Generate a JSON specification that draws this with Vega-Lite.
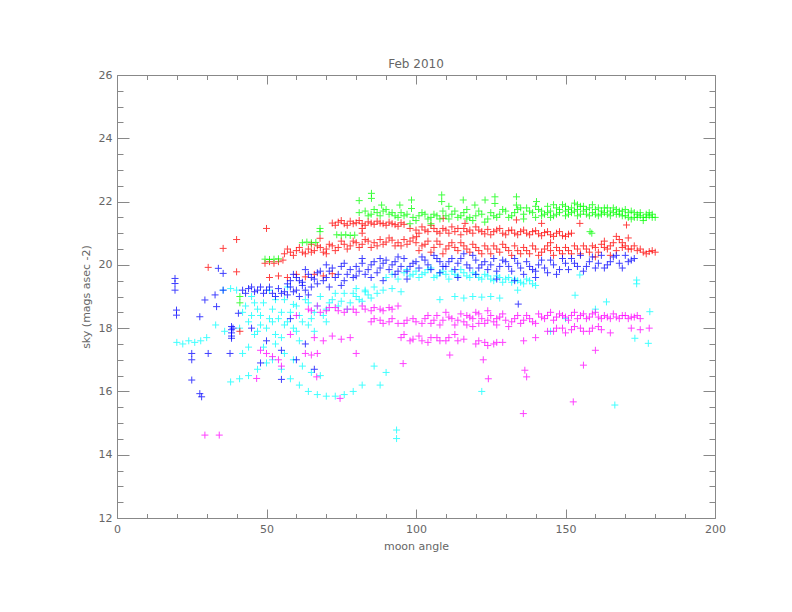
{
  "$schema": "https://vega.github.io/schema/vega-lite/v6.json",
  "width": 598,
  "height": 443,
  "autosize": "none",
  "padding": {"left": 117, "top": 75, "right": 77, "bottom": 94},
  "background": "white",
  "config": {
    "view": {"stroke": null},
    "font": "DejaVu Sans",
    "axis": {
      "grid": false,
      "domainColor": "#888",
      "tickColor": "#888",
      "labelColor": "#666",
      "titleColor": "#666",
      "labelFontSize": 11,
      "titleFontSize": 11,
      "titleFontWeight": "normal",
      "labelFont": "DejaVu Sans",
      "titleFont": "DejaVu Sans"
    },
    "title": {"color": "#666", "fontSize": 12, "fontWeight": "normal", "font": "DejaVu Sans"}
  },
  "title": {"text": "Feb 2010", "offset": -2},
  "data": {
    "values": [
      {"angle": 96, "sky": 19.75, "set": "c"}, {"angle": 98, "sky": 19.65, "set": "c"}, {"angle": 100, "sky": 19.8, "set": "c"},
      {"angle": 102, "sky": 19.7, "set": "c"}, {"angle": 104, "sky": 19.85, "set": "c"}, {"angle": 106, "sky": 19.6, "set": "c"},
      {"angle": 108, "sky": 19.75, "set": "c"}, {"angle": 110, "sky": 19.7, "set": "c"}, {"angle": 112, "sky": 19.8, "set": "c"},
      {"angle": 114, "sky": 19.65, "set": "c"}, {"angle": 116, "sky": 19.75, "set": "c"}, {"angle": 118, "sky": 19.6, "set": "c"},
      {"angle": 120, "sky": 19.7, "set": "c"}, {"angle": 122, "sky": 19.55, "set": "c"}, {"angle": 124, "sky": 19.65, "set": "c"},
      {"angle": 126, "sky": 19.5, "set": "c"}, {"angle": 128, "sky": 19.6, "set": "c"}, {"angle": 130, "sky": 19.55, "set": "c"},
      {"angle": 132, "sky": 19.45, "set": "c"}, {"angle": 134, "sky": 19.5, "set": "c"}, {"angle": 136, "sky": 19.4, "set": "c"},
      {"angle": 138, "sky": 19.5, "set": "c"}, {"angle": 140, "sky": 19.35, "set": "c"}, {"angle": 80, "sky": 19.25, "set": "c"},
      {"angle": 97, "sky": 19.85, "set": "c"}, {"angle": 99, "sky": 19.7, "set": "c"}, {"angle": 101, "sky": 19.6, "set": "c"},
      {"angle": 103, "sky": 19.75, "set": "c"}, {"angle": 105, "sky": 19.9, "set": "c"}, {"angle": 107, "sky": 19.65, "set": "c"},
      {"angle": 109, "sky": 19.8, "set": "c"}, {"angle": 111, "sky": 19.55, "set": "c"}, {"angle": 113, "sky": 19.7, "set": "c"},
      {"angle": 115, "sky": 19.85, "set": "c"}, {"angle": 117, "sky": 19.65, "set": "c"}, {"angle": 119, "sky": 19.75, "set": "c"},
      {"angle": 121, "sky": 19.6, "set": "c"}, {"angle": 123, "sky": 19.7, "set": "c"}, {"angle": 125, "sky": 19.55, "set": "c"},
      {"angle": 127, "sky": 19.65, "set": "c"}, {"angle": 129, "sky": 19.45, "set": "c"}, {"angle": 131, "sky": 19.6, "set": "c"},
      {"angle": 133, "sky": 19.55, "set": "c"}, {"angle": 135, "sky": 19.45, "set": "c"}, {"angle": 137, "sky": 19.55, "set": "c"},
      {"angle": 139, "sky": 19.4, "set": "c"}, {"angle": 90, "sky": 19.6, "set": "c"}, {"angle": 92, "sky": 19.7, "set": "c"},
      {"angle": 94, "sky": 19.55, "set": "c"},
      {"angle": 83, "sky": 19.2, "set": "c"}, {"angle": 86, "sky": 19.3, "set": "c"}, {"angle": 89, "sky": 19.2, "set": "c"},
      {"angle": 92, "sky": 19.25, "set": "c"}, {"angle": 95, "sky": 19.15, "set": "c"}, {"angle": 113, "sky": 19.0, "set": "c"},
      {"angle": 116, "sky": 18.95, "set": "c"}, {"angle": 119, "sky": 19.0, "set": "c"}, {"angle": 122, "sky": 18.98, "set": "c"},
      {"angle": 125, "sky": 19.0, "set": "c"}, {"angle": 128, "sky": 18.95, "set": "c"}, {"angle": 42, "sky": 18.5, "set": "c"},
      {"angle": 44, "sky": 18.2, "set": "c"}, {"angle": 46, "sky": 18.8, "set": "c"}, {"angle": 48, "sky": 18.4, "set": "c"},
      {"angle": 50, "sky": 18.0, "set": "c"}, {"angle": 52, "sky": 18.6, "set": "c"}, {"angle": 54, "sky": 18.3, "set": "c"},
      {"angle": 56, "sky": 18.9, "set": "c"}, {"angle": 58, "sky": 18.5, "set": "c"}, {"angle": 60, "sky": 18.7, "set": "c"},
      {"angle": 62, "sky": 18.2, "set": "c"}, {"angle": 64, "sky": 18.8, "set": "c"}, {"angle": 66, "sky": 18.5, "set": "c"},
      {"angle": 68, "sky": 19.0, "set": "c"}, {"angle": 70, "sky": 18.6, "set": "c"}, {"angle": 72, "sky": 18.9, "set": "c"},
      {"angle": 74, "sky": 18.7, "set": "c"}, {"angle": 76, "sky": 19.1, "set": "c"}, {"angle": 78, "sky": 18.8, "set": "c"},
      {"angle": 80, "sky": 19.0, "set": "c"}, {"angle": 82, "sky": 18.85, "set": "c"}, {"angle": 84, "sky": 19.05, "set": "c"},
      {"angle": 43, "sky": 18.7, "set": "c"}, {"angle": 45, "sky": 18.4, "set": "c"}, {"angle": 47, "sky": 18.6, "set": "c"},
      {"angle": 49, "sky": 18.8, "set": "c"}, {"angle": 51, "sky": 18.3, "set": "c"}, {"angle": 53, "sky": 18.9, "set": "c"},
      {"angle": 55, "sky": 18.5, "set": "c"}, {"angle": 57, "sky": 18.2, "set": "c"}, {"angle": 59, "sky": 18.75, "set": "c"},
      {"angle": 61, "sky": 18.4, "set": "c"}, {"angle": 63, "sky": 18.9, "set": "c"}, {"angle": 65, "sky": 18.3, "set": "c"},
      {"angle": 67, "sky": 18.7, "set": "c"}, {"angle": 69, "sky": 18.4, "set": "c"}, {"angle": 71, "sky": 18.8, "set": "c"},
      {"angle": 73, "sky": 19.1, "set": "c"}, {"angle": 75, "sky": 18.85, "set": "c"}, {"angle": 77, "sky": 18.6, "set": "c"},
      {"angle": 79, "sky": 19.1, "set": "c"}, {"angle": 81, "sky": 18.9, "set": "c"}, {"angle": 83, "sky": 19.15, "set": "c"},
      {"angle": 85, "sky": 18.95, "set": "c"}, {"angle": 87, "sky": 19.1, "set": "c"}, {"angle": 48, "sky": 18.1, "set": "c"},
      {"angle": 52, "sky": 18.2, "set": "c"}, {"angle": 56, "sky": 18.1, "set": "c"}, {"angle": 60, "sky": 17.9, "set": "c"},
      {"angle": 64, "sky": 18.1, "set": "c"}, {"angle": 66, "sky": 17.9, "set": "c"}, {"angle": 70, "sky": 18.2, "set": "c"},
      {"angle": 55, "sky": 17.7, "set": "c"}, {"angle": 61, "sky": 17.6, "set": "c"},
      {"angle": 47, "sky": 17.9, "set": "c"}, {"angle": 53, "sky": 17.8, "set": "c"}, {"angle": 59, "sky": 18.0, "set": "c"},
      {"angle": 45, "sky": 19.0, "set": "c"}, {"angle": 51, "sky": 19.2, "set": "c"}, {"angle": 57, "sky": 19.3, "set": "c"},
      {"angle": 41, "sky": 18.0, "set": "c"}, {"angle": 46, "sky": 17.8, "set": "c"}, {"angle": 49, "sky": 17.4, "set": "c"},
      {"angle": 52, "sky": 17.0, "set": "c"}, {"angle": 55, "sky": 16.7, "set": "c"}, {"angle": 58, "sky": 16.4, "set": "c"},
      {"angle": 61, "sky": 16.2, "set": "c"}, {"angle": 64, "sky": 16.0, "set": "c"}, {"angle": 67, "sky": 15.9, "set": "c"},
      {"angle": 70, "sky": 15.85, "set": "c"}, {"angle": 73, "sky": 15.85, "set": "c"}, {"angle": 76, "sky": 15.9, "set": "c"},
      {"angle": 79, "sky": 16.0, "set": "c"}, {"angle": 82, "sky": 16.2, "set": "c"}, {"angle": 38, "sky": 16.3, "set": "c"},
      {"angle": 41, "sky": 16.4, "set": "c"}, {"angle": 44, "sky": 16.5, "set": "c"}, {"angle": 47, "sky": 16.7, "set": "c"},
      {"angle": 50, "sky": 16.9, "set": "c"}, {"angle": 44, "sky": 17.4, "set": "c"}, {"angle": 42, "sky": 17.2, "set": "c"},
      {"angle": 53, "sky": 17.5, "set": "c"}, {"angle": 56, "sky": 17.2, "set": "c"}, {"angle": 59, "sky": 17.0, "set": "c"},
      {"angle": 62, "sky": 16.8, "set": "c"}, {"angle": 65, "sky": 16.6, "set": "c"}, {"angle": 68, "sky": 16.5, "set": "c"},
      {"angle": 20, "sky": 17.55, "set": "c"}, {"angle": 22, "sky": 17.5, "set": "c"}, {"angle": 24, "sky": 17.6, "set": "c"},
      {"angle": 26, "sky": 17.55, "set": "c"}, {"angle": 28, "sky": 17.6, "set": "c"}, {"angle": 30, "sky": 17.7, "set": "c"},
      {"angle": 35.5, "sky": 19.2, "set": "c"}, {"angle": 38, "sky": 19.25, "set": "c"}, {"angle": 40, "sky": 19.2, "set": "c"},
      {"angle": 33, "sky": 18.1, "set": "c"}, {"angle": 36, "sky": 17.9, "set": "c"}, {"angle": 93.5, "sky": 14.78, "set": "c"},
      {"angle": 93.5, "sky": 14.51, "set": "c"}, {"angle": 88, "sky": 16.2, "set": "c"}, {"angle": 90, "sky": 16.6, "set": "c"},
      {"angle": 86, "sky": 16.8, "set": "c"}, {"angle": 122, "sky": 16.0, "set": "c"}, {"angle": 166.5, "sky": 15.57, "set": "c"},
      {"angle": 173.8, "sky": 19.52, "set": "c"}, {"angle": 173.8, "sky": 19.4, "set": "c"}, {"angle": 154.8, "sky": 19.68, "set": "c"},
      {"angle": 153.2, "sky": 19.04, "set": "c"}, {"angle": 178.2, "sky": 18.52, "set": "c"}, {"angle": 177.7, "sky": 17.52, "set": "c"},
      {"angle": 173.2, "sky": 17.68, "set": "c"}, {"angle": 163.7, "sky": 18.83, "set": "c"}, {"angle": 160, "sky": 18.6, "set": "c"},
      {"angle": 150, "sky": 18.3, "set": "c"}, {"angle": 145, "sky": 17.9, "set": "c"}, {"angle": 134, "sky": 19.2, "set": "c"},
      {"angle": 108, "sky": 18.9, "set": "c"},

      {"angle": 85, "sky": 18.2, "set": "m"}, {"angle": 88, "sky": 18.25, "set": "m"}, {"angle": 91, "sky": 18.2, "set": "m"},
      {"angle": 94, "sky": 18.15, "set": "m"}, {"angle": 97, "sky": 18.25, "set": "m"}, {"angle": 100, "sky": 18.2, "set": "m"},
      {"angle": 103, "sky": 18.3, "set": "m"}, {"angle": 105, "sky": 18.15, "set": "m"}, {"angle": 107, "sky": 18.4, "set": "m"},
      {"angle": 109, "sky": 18.25, "set": "m"}, {"angle": 110, "sky": 18.5, "set": "m"}, {"angle": 112, "sky": 18.3, "set": "m"},
      {"angle": 113, "sky": 18.1, "set": "m"}, {"angle": 115, "sky": 18.45, "set": "m"}, {"angle": 116, "sky": 18.2, "set": "m"},
      {"angle": 118, "sky": 18.35, "set": "m"}, {"angle": 119, "sky": 18.05, "set": "m"}, {"angle": 120, "sky": 18.5, "set": "m"},
      {"angle": 122, "sky": 18.3, "set": "m"}, {"angle": 123, "sky": 18.15, "set": "m"}, {"angle": 125, "sky": 18.4, "set": "m"},
      {"angle": 126, "sky": 18.2, "set": "m"}, {"angle": 128, "sky": 18.35, "set": "m"}, {"angle": 130, "sky": 18.25, "set": "m"},
      {"angle": 131, "sky": 18.05, "set": "m"}, {"angle": 133, "sky": 18.3, "set": "m"}, {"angle": 135, "sky": 18.15, "set": "m"},
      {"angle": 137, "sky": 18.4, "set": "m"}, {"angle": 139, "sky": 18.2, "set": "m"}, {"angle": 141, "sky": 18.45, "set": "m"},
      {"angle": 143, "sky": 18.3, "set": "m"}, {"angle": 145, "sky": 18.5, "set": "m"}, {"angle": 147, "sky": 18.35, "set": "m"},
      {"angle": 149, "sky": 18.4, "set": "m"}, {"angle": 151, "sky": 18.25, "set": "m"}, {"angle": 153, "sky": 18.5, "set": "m"},
      {"angle": 155, "sky": 18.4, "set": "m"}, {"angle": 157, "sky": 18.3, "set": "m"}, {"angle": 159, "sky": 18.45, "set": "m"},
      {"angle": 161, "sky": 18.35, "set": "m"}, {"angle": 163, "sky": 18.4, "set": "m"}, {"angle": 165, "sky": 18.3, "set": "m"},
      {"angle": 167, "sky": 18.35, "set": "m"}, {"angle": 169, "sky": 18.4, "set": "m"}, {"angle": 171, "sky": 18.3, "set": "m"},
      {"angle": 173, "sky": 18.35, "set": "m"}, {"angle": 175, "sky": 18.3, "set": "m"},
      {"angle": 86, "sky": 18.3, "set": "m"}, {"angle": 89, "sky": 18.15, "set": "m"}, {"angle": 92, "sky": 18.3, "set": "m"},
      {"angle": 96, "sky": 18.15, "set": "m"}, {"angle": 99, "sky": 18.3, "set": "m"}, {"angle": 102, "sky": 18.15, "set": "m"},
      {"angle": 104, "sky": 18.4, "set": "m"}, {"angle": 106, "sky": 18.25, "set": "m"}, {"angle": 108, "sky": 18.1, "set": "m"},
      {"angle": 111, "sky": 18.35, "set": "m"}, {"angle": 114, "sky": 18.25, "set": "m"}, {"angle": 117, "sky": 18.4, "set": "m"},
      {"angle": 117, "sky": 18.1, "set": "m"}, {"angle": 119, "sky": 18.3, "set": "m"}, {"angle": 121, "sky": 18.15, "set": "m"},
      {"angle": 121, "sky": 18.45, "set": "m"}, {"angle": 124, "sky": 18.25, "set": "m"}, {"angle": 124, "sky": 18.55, "set": "m"},
      {"angle": 127, "sky": 18.3, "set": "m"}, {"angle": 127, "sky": 18.1, "set": "m"}, {"angle": 129, "sky": 18.45, "set": "m"},
      {"angle": 132, "sky": 18.2, "set": "m"}, {"angle": 134, "sky": 18.4, "set": "m"}, {"angle": 136, "sky": 18.25, "set": "m"},
      {"angle": 138, "sky": 18.3, "set": "m"}, {"angle": 140, "sky": 18.15, "set": "m"}, {"angle": 142, "sky": 18.35, "set": "m"},
      {"angle": 144, "sky": 18.4, "set": "m"}, {"angle": 146, "sky": 18.25, "set": "m"}, {"angle": 148, "sky": 18.45, "set": "m"},
      {"angle": 150, "sky": 18.35, "set": "m"}, {"angle": 152, "sky": 18.4, "set": "m"}, {"angle": 154, "sky": 18.3, "set": "m"},
      {"angle": 156, "sky": 18.45, "set": "m"}, {"angle": 158, "sky": 18.35, "set": "m"}, {"angle": 160, "sky": 18.5, "set": "m"},
      {"angle": 162, "sky": 18.3, "set": "m"}, {"angle": 164, "sky": 18.35, "set": "m"}, {"angle": 166, "sky": 18.45, "set": "m"},
      {"angle": 168, "sky": 18.3, "set": "m"}, {"angle": 170, "sky": 18.4, "set": "m"}, {"angle": 172, "sky": 18.35, "set": "m"},
      {"angle": 174, "sky": 18.4, "set": "m"},
      {"angle": 95, "sky": 17.7, "set": "m"},
      {"angle": 98, "sky": 17.6, "set": "m"}, {"angle": 101, "sky": 17.75, "set": "m"}, {"angle": 104, "sky": 17.55, "set": "m"},
      {"angle": 107, "sky": 17.7, "set": "m"}, {"angle": 110, "sky": 17.6, "set": "m"}, {"angle": 113, "sky": 17.8, "set": "m"},
      {"angle": 116, "sky": 17.65, "set": "m"}, {"angle": 120, "sky": 17.5, "set": "m"}, {"angle": 123, "sky": 17.55, "set": "m"},
      {"angle": 126, "sky": 17.5, "set": "m"}, {"angle": 129, "sky": 17.55, "set": "m"}, {"angle": 144, "sky": 17.9, "set": "m"},
      {"angle": 147, "sky": 18.0, "set": "m"}, {"angle": 150, "sky": 17.85, "set": "m"}, {"angle": 153, "sky": 18.05, "set": "m"},
      {"angle": 156, "sky": 17.9, "set": "m"}, {"angle": 159, "sky": 18.0, "set": "m"}, {"angle": 162, "sky": 17.95, "set": "m"},
      {"angle": 165, "sky": 17.85, "set": "m"}, {"angle": 172, "sky": 18.0, "set": "m"}, {"angle": 175, "sky": 17.95, "set": "m"},
      {"angle": 178, "sky": 18.0, "set": "m"}, {"angle": 140, "sky": 17.7, "set": "m"}, {"angle": 136, "sky": 17.6, "set": "m"},
      {"angle": 96, "sky": 17.8, "set": "m"}, {"angle": 99, "sky": 17.65, "set": "m"}, {"angle": 102, "sky": 17.6, "set": "m"},
      {"angle": 105, "sky": 17.7, "set": "m"}, {"angle": 108, "sky": 17.6, "set": "m"}, {"angle": 111, "sky": 17.7, "set": "m"},
      {"angle": 114, "sky": 17.6, "set": "m"}, {"angle": 121, "sky": 17.6, "set": "m"}, {"angle": 124, "sky": 17.45, "set": "m"},
      {"angle": 127, "sky": 17.55, "set": "m"}, {"angle": 146, "sky": 17.9, "set": "m"}, {"angle": 149, "sky": 18.0, "set": "m"},
      {"angle": 152, "sky": 17.95, "set": "m"}, {"angle": 155, "sky": 18.0, "set": "m"}, {"angle": 158, "sky": 17.9, "set": "m"},
      {"angle": 161, "sky": 18.05, "set": "m"},
      {"angle": 64, "sky": 18.6, "set": "m"}, {"angle": 67, "sky": 18.7, "set": "m"}, {"angle": 70, "sky": 18.55, "set": "m"},
      {"angle": 73, "sky": 18.65, "set": "m"}, {"angle": 76, "sky": 18.5, "set": "m"}, {"angle": 79, "sky": 18.6, "set": "m"},
      {"angle": 82, "sky": 18.7, "set": "m"}, {"angle": 85, "sky": 18.55, "set": "m"}, {"angle": 88, "sky": 18.6, "set": "m"},
      {"angle": 91, "sky": 18.65, "set": "m"}, {"angle": 94, "sky": 18.7, "set": "m"},
      {"angle": 65, "sky": 18.55, "set": "m"}, {"angle": 68, "sky": 18.5, "set": "m"}, {"angle": 71, "sky": 18.65, "set": "m"},
      {"angle": 74, "sky": 18.55, "set": "m"}, {"angle": 77, "sky": 18.6, "set": "m"}, {"angle": 80, "sky": 18.5, "set": "m"},
      {"angle": 83, "sky": 18.6, "set": "m"}, {"angle": 86, "sky": 18.65, "set": "m"}, {"angle": 89, "sky": 18.55, "set": "m"},
      {"angle": 92, "sky": 18.6, "set": "m"},
      {"angle": 66, "sky": 17.7, "set": "m"},
      {"angle": 69, "sky": 17.6, "set": "m"}, {"angle": 72, "sky": 17.75, "set": "m"}, {"angle": 75, "sky": 17.65, "set": "m"},
      {"angle": 78, "sky": 17.7, "set": "m"}, {"angle": 63, "sky": 17.2, "set": "m"}, {"angle": 65, "sky": 17.15, "set": "m"},
      {"angle": 67, "sky": 17.2, "set": "m"}, {"angle": 48, "sky": 17.3, "set": "m"}, {"angle": 50, "sky": 17.2, "set": "m"},
      {"angle": 52, "sky": 17.1, "set": "m"}, {"angle": 54, "sky": 17.0, "set": "m"}, {"angle": 55, "sky": 16.8, "set": "m"},
      {"angle": 58, "sky": 17.8, "set": "m"}, {"angle": 60, "sky": 18.4, "set": "m"}, {"angle": 29.4, "sky": 14.62, "set": "m"},
      {"angle": 34.2, "sky": 14.62, "set": "m"}, {"angle": 74.6, "sky": 15.78, "set": "m"}, {"angle": 122.5, "sky": 17.0, "set": "m"},
      {"angle": 124.2, "sky": 16.4, "set": "m"}, {"angle": 136.4, "sky": 16.67, "set": "m"}, {"angle": 137, "sky": 16.46, "set": "m"},
      {"angle": 135.9, "sky": 15.3, "set": "m"}, {"angle": 152.6, "sky": 15.67, "set": "m"}, {"angle": 156, "sky": 16.83, "set": "m"},
      {"angle": 95.7, "sky": 16.88, "set": "m"}, {"angle": 111.3, "sky": 17.15, "set": "m"}, {"angle": 46.7, "sky": 16.41, "set": "m"},
      {"angle": 66.8, "sky": 16.46, "set": "m"}, {"angle": 80, "sky": 17.2, "set": "m"}, {"angle": 160, "sky": 17.3, "set": "m"},

      {"angle": 72, "sky": 21.32, "set": "r"}, {"angle": 74, "sky": 21.35, "set": "r"}, {"angle": 76, "sky": 21.3, "set": "r"},
      {"angle": 78, "sky": 21.38, "set": "r"}, {"angle": 80, "sky": 21.33, "set": "r"}, {"angle": 82, "sky": 21.3, "set": "r"},
      {"angle": 84, "sky": 21.36, "set": "r"}, {"angle": 86, "sky": 21.28, "set": "r"}, {"angle": 88, "sky": 21.32, "set": "r"},
      {"angle": 90, "sky": 21.25, "set": "r"}, {"angle": 92, "sky": 21.3, "set": "r"}, {"angle": 94, "sky": 21.22, "set": "r"},
      {"angle": 96, "sky": 21.28, "set": "r"},
      {"angle": 73, "sky": 21.25, "set": "r"}, {"angle": 75, "sky": 21.4, "set": "r"}, {"angle": 77, "sky": 21.25, "set": "r"},
      {"angle": 79, "sky": 21.3, "set": "r"}, {"angle": 81, "sky": 21.4, "set": "r"}, {"angle": 83, "sky": 21.25, "set": "r"},
      {"angle": 85, "sky": 21.32, "set": "r"}, {"angle": 87, "sky": 21.38, "set": "r"}, {"angle": 89, "sky": 21.3, "set": "r"},
      {"angle": 91, "sky": 21.35, "set": "r"}, {"angle": 93, "sky": 21.27, "set": "r"}, {"angle": 95, "sky": 21.33, "set": "r"},
      {"angle": 98, "sky": 21.15, "set": "r"}, {"angle": 100, "sky": 21.1, "set": "r"},
      {"angle": 102, "sky": 21.2, "set": "r"}, {"angle": 104, "sky": 21.05, "set": "r"}, {"angle": 106, "sky": 21.15, "set": "r"},
      {"angle": 108, "sky": 21.0, "set": "r"}, {"angle": 110, "sky": 21.1, "set": "r"}, {"angle": 112, "sky": 21.2, "set": "r"},
      {"angle": 113, "sky": 21.05, "set": "r"}, {"angle": 115, "sky": 20.95, "set": "r"}, {"angle": 116, "sky": 21.15, "set": "r"},
      {"angle": 118, "sky": 21.1, "set": "r"}, {"angle": 119, "sky": 21.0, "set": "r"}, {"angle": 120, "sky": 21.2, "set": "r"},
      {"angle": 122, "sky": 21.05, "set": "r"}, {"angle": 124, "sky": 21.12, "set": "r"}, {"angle": 125, "sky": 20.95, "set": "r"},
      {"angle": 127, "sky": 21.1, "set": "r"}, {"angle": 129, "sky": 21.0, "set": "r"}, {"angle": 131, "sky": 21.08, "set": "r"},
      {"angle": 133, "sky": 21.0, "set": "r"}, {"angle": 135, "sky": 21.05, "set": "r"}, {"angle": 137, "sky": 21.0, "set": "r"},
      {"angle": 139, "sky": 21.05, "set": "r"}, {"angle": 141, "sky": 20.98, "set": "r"}, {"angle": 143, "sky": 21.02, "set": "r"},
      {"angle": 145, "sky": 20.95, "set": "r"}, {"angle": 147, "sky": 21.0, "set": "r"}, {"angle": 149, "sky": 20.92, "set": "r"},
      {"angle": 151, "sky": 20.97, "set": "r"},
      {"angle": 101, "sky": 21.0, "set": "r"}, {"angle": 103, "sky": 21.1, "set": "r"}, {"angle": 105, "sky": 21.25, "set": "r"},
      {"angle": 107, "sky": 21.05, "set": "r"}, {"angle": 109, "sky": 21.15, "set": "r"}, {"angle": 111, "sky": 21.0, "set": "r"},
      {"angle": 114, "sky": 21.15, "set": "r"}, {"angle": 117, "sky": 21.05, "set": "r"}, {"angle": 121, "sky": 21.1, "set": "r"},
      {"angle": 123, "sky": 20.98, "set": "r"}, {"angle": 126, "sky": 21.05, "set": "r"}, {"angle": 128, "sky": 21.15, "set": "r"},
      {"angle": 130, "sky": 20.95, "set": "r"}, {"angle": 132, "sky": 21.1, "set": "r"}, {"angle": 134, "sky": 20.95, "set": "r"},
      {"angle": 136, "sky": 21.1, "set": "r"}, {"angle": 138, "sky": 20.95, "set": "r"}, {"angle": 140, "sky": 21.08, "set": "r"},
      {"angle": 142, "sky": 20.92, "set": "r"}, {"angle": 144, "sky": 21.05, "set": "r"}, {"angle": 146, "sky": 20.9, "set": "r"},
      {"angle": 148, "sky": 21.05, "set": "r"}, {"angle": 150, "sky": 20.9, "set": "r"}, {"angle": 152, "sky": 21.0, "set": "r"},
      {"angle": 56, "sky": 20.35, "set": "r"}, {"angle": 58, "sky": 20.4, "set": "r"},
      {"angle": 60, "sky": 20.45, "set": "r"}, {"angle": 62, "sky": 20.4, "set": "r"}, {"angle": 64, "sky": 20.5, "set": "r"},
      {"angle": 66, "sky": 20.45, "set": "r"}, {"angle": 68, "sky": 20.55, "set": "r"}, {"angle": 70, "sky": 20.5, "set": "r"},
      {"angle": 72, "sky": 20.6, "set": "r"}, {"angle": 74, "sky": 20.55, "set": "r"}, {"angle": 76, "sky": 20.65, "set": "r"},
      {"angle": 78, "sky": 20.6, "set": "r"}, {"angle": 80, "sky": 20.7, "set": "r"}, {"angle": 82, "sky": 20.65, "set": "r"},
      {"angle": 84, "sky": 20.75, "set": "r"}, {"angle": 86, "sky": 20.7, "set": "r"}, {"angle": 88, "sky": 20.8, "set": "r"},
      {"angle": 90, "sky": 20.72, "set": "r"}, {"angle": 92, "sky": 20.78, "set": "r"}, {"angle": 94, "sky": 20.7, "set": "r"},
      {"angle": 96, "sky": 20.8, "set": "r"}, {"angle": 98, "sky": 20.75, "set": "r"}, {"angle": 100, "sky": 20.7, "set": "r"},
      {"angle": 65, "sky": 20.65, "set": "r"}, {"angle": 75, "sky": 20.75, "set": "r"}, {"angle": 85, "sky": 20.55, "set": "r"},
      {"angle": 95, "sky": 20.6, "set": "r"}, {"angle": 70, "sky": 20.35, "set": "r"},
      {"angle": 57, "sky": 20.5, "set": "r"}, {"angle": 59, "sky": 20.3, "set": "r"}, {"angle": 61, "sky": 20.55, "set": "r"},
      {"angle": 63, "sky": 20.35, "set": "r"}, {"angle": 65, "sky": 20.4, "set": "r"}, {"angle": 67, "sky": 20.6, "set": "r"},
      {"angle": 69, "sky": 20.4, "set": "r"}, {"angle": 71, "sky": 20.65, "set": "r"}, {"angle": 73, "sky": 20.45, "set": "r"},
      {"angle": 77, "sky": 20.5, "set": "r"}, {"angle": 79, "sky": 20.75, "set": "r"}, {"angle": 81, "sky": 20.55, "set": "r"},
      {"angle": 83, "sky": 20.8, "set": "r"}, {"angle": 87, "sky": 20.6, "set": "r"}, {"angle": 89, "sky": 20.65, "set": "r"},
      {"angle": 91, "sky": 20.85, "set": "r"}, {"angle": 93, "sky": 20.6, "set": "r"}, {"angle": 97, "sky": 20.65, "set": "r"},
      {"angle": 99, "sky": 20.85, "set": "r"},
      {"angle": 102, "sky": 20.6, "set": "r"},
      {"angle": 104, "sky": 20.75, "set": "r"}, {"angle": 106, "sky": 20.55, "set": "r"}, {"angle": 108, "sky": 20.65, "set": "r"},
      {"angle": 110, "sky": 20.5, "set": "r"}, {"angle": 112, "sky": 20.7, "set": "r"}, {"angle": 114, "sky": 20.45, "set": "r"},
      {"angle": 116, "sky": 20.6, "set": "r"}, {"angle": 118, "sky": 20.4, "set": "r"}, {"angle": 120, "sky": 20.55, "set": "r"},
      {"angle": 122, "sky": 20.35, "set": "r"}, {"angle": 124, "sky": 20.5, "set": "r"}, {"angle": 126, "sky": 20.6, "set": "r"},
      {"angle": 128, "sky": 20.4, "set": "r"}, {"angle": 130, "sky": 20.55, "set": "r"}, {"angle": 132, "sky": 20.3, "set": "r"},
      {"angle": 134, "sky": 20.45, "set": "r"}, {"angle": 136, "sky": 20.55, "set": "r"}, {"angle": 138, "sky": 20.35, "set": "r"},
      {"angle": 140, "sky": 20.5, "set": "r"}, {"angle": 142, "sky": 20.4, "set": "r"}, {"angle": 144, "sky": 20.6, "set": "r"},
      {"angle": 146, "sky": 20.3, "set": "r"}, {"angle": 148, "sky": 20.45, "set": "r"}, {"angle": 150, "sky": 20.55, "set": "r"},
      {"angle": 152, "sky": 20.35, "set": "r"}, {"angle": 154, "sky": 20.5, "set": "r"}, {"angle": 156, "sky": 20.6, "set": "r"},
      {"angle": 158, "sky": 20.4, "set": "r"}, {"angle": 160, "sky": 20.55, "set": "r"}, {"angle": 162, "sky": 20.65, "set": "r"},
      {"angle": 164, "sky": 20.5, "set": "r"}, {"angle": 166, "sky": 20.7, "set": "r"}, {"angle": 168, "sky": 20.8, "set": "r"},
      {"angle": 170, "sky": 20.6, "set": "r"}, {"angle": 172, "sky": 20.5, "set": "r"}, {"angle": 174, "sky": 20.45, "set": "r"},
      {"angle": 176, "sky": 20.4, "set": "r"}, {"angle": 178, "sky": 20.42, "set": "r"}, {"angle": 180, "sky": 20.4, "set": "r"},
      {"angle": 167, "sky": 20.9, "set": "r"}, {"angle": 171, "sky": 20.85, "set": "r"}, {"angle": 165, "sky": 20.3, "set": "r"},
      {"angle": 160, "sky": 20.25, "set": "r"}, {"angle": 145, "sky": 20.7, "set": "r"},
      {"angle": 101, "sky": 20.45, "set": "r"}, {"angle": 103, "sky": 20.65, "set": "r"}, {"angle": 105, "sky": 20.4, "set": "r"},
      {"angle": 107, "sky": 20.75, "set": "r"}, {"angle": 109, "sky": 20.35, "set": "r"}, {"angle": 111, "sky": 20.6, "set": "r"},
      {"angle": 113, "sky": 20.55, "set": "r"}, {"angle": 115, "sky": 20.7, "set": "r"}, {"angle": 117, "sky": 20.5, "set": "r"},
      {"angle": 119, "sky": 20.65, "set": "r"}, {"angle": 121, "sky": 20.45, "set": "r"}, {"angle": 123, "sky": 20.6, "set": "r"},
      {"angle": 125, "sky": 20.35, "set": "r"}, {"angle": 127, "sky": 20.5, "set": "r"}, {"angle": 129, "sky": 20.65, "set": "r"},
      {"angle": 131, "sky": 20.45, "set": "r"}, {"angle": 133, "sky": 20.6, "set": "r"}, {"angle": 135, "sky": 20.35, "set": "r"},
      {"angle": 137, "sky": 20.45, "set": "r"}, {"angle": 139, "sky": 20.6, "set": "r"}, {"angle": 141, "sky": 20.3, "set": "r"},
      {"angle": 143, "sky": 20.5, "set": "r"}, {"angle": 145, "sky": 20.45, "set": "r"}, {"angle": 147, "sky": 20.55, "set": "r"},
      {"angle": 149, "sky": 20.35, "set": "r"}, {"angle": 151, "sky": 20.45, "set": "r"}, {"angle": 153, "sky": 20.6, "set": "r"},
      {"angle": 155, "sky": 20.35, "set": "r"}, {"angle": 157, "sky": 20.5, "set": "r"}, {"angle": 159, "sky": 20.6, "set": "r"},
      {"angle": 161, "sky": 20.4, "set": "r"}, {"angle": 163, "sky": 20.55, "set": "r"}, {"angle": 165, "sky": 20.6, "set": "r"},
      {"angle": 167, "sky": 20.45, "set": "r"}, {"angle": 169, "sky": 20.7, "set": "r"}, {"angle": 171, "sky": 20.5, "set": "r"},
      {"angle": 173, "sky": 20.6, "set": "r"}, {"angle": 175, "sky": 20.5, "set": "r"}, {"angle": 177, "sky": 20.35, "set": "r"},
      {"angle": 179, "sky": 20.45, "set": "r"}, {"angle": 163, "sky": 20.75, "set": "r"}, {"angle": 169, "sky": 20.55, "set": "r"},
      {"angle": 51, "sky": 19.6, "set": "r"},
      {"angle": 54, "sky": 19.65, "set": "r"}, {"angle": 57, "sky": 19.6, "set": "r"}, {"angle": 60, "sky": 19.7, "set": "r"},
      {"angle": 63, "sky": 19.62, "set": "r"}, {"angle": 66, "sky": 19.7, "set": "r"}, {"angle": 69, "sky": 19.65, "set": "r"},
      {"angle": 72, "sky": 19.72, "set": "r"}, {"angle": 49.5, "sky": 20.05, "set": "r"}, {"angle": 51, "sky": 20.1, "set": "r"},
      {"angle": 52.5, "sky": 20.05, "set": "r"}, {"angle": 54, "sky": 20.1, "set": "r"}, {"angle": 55.5, "sky": 20.15, "set": "r"},
      {"angle": 50, "sky": 21.15, "set": "r"}, {"angle": 40, "sky": 20.8, "set": "r"}, {"angle": 35.5, "sky": 20.52, "set": "r"},
      {"angle": 30.5, "sky": 19.92, "set": "r"}, {"angle": 40, "sky": 19.78, "set": "r"}, {"angle": 41.1, "sky": 17.9, "set": "r"},
      {"angle": 109.1, "sky": 21.47, "set": "r"}, {"angle": 116.4, "sky": 21.31, "set": "r"}, {"angle": 133.6, "sky": 21.42, "set": "r"},
      {"angle": 142, "sky": 21.31, "set": "r"}, {"angle": 154.8, "sky": 21.31, "set": "r"}, {"angle": 170.4, "sky": 21.26, "set": "r"},
      {"angle": 100.2, "sky": 20.89, "set": "r"}, {"angle": 67.9, "sky": 20.84, "set": "r"}, {"angle": 82, "sky": 21.15, "set": "r"},
      {"angle": 82, "sky": 21.0, "set": "r"},

      {"angle": 42, "sky": 19.2, "set": "b"}, {"angle": 44, "sky": 19.25, "set": "b"}, {"angle": 46, "sky": 19.15, "set": "b"},
      {"angle": 48, "sky": 19.3, "set": "b"}, {"angle": 50, "sky": 19.2, "set": "b"}, {"angle": 52, "sky": 19.1, "set": "b"},
      {"angle": 54, "sky": 19.25, "set": "b"}, {"angle": 56, "sky": 19.15, "set": "b"}, {"angle": 58, "sky": 19.3, "set": "b"},
      {"angle": 60, "sky": 19.2, "set": "b"}, {"angle": 62, "sky": 19.35, "set": "b"}, {"angle": 53, "sky": 19.0, "set": "b"},
      {"angle": 57, "sky": 19.05, "set": "b"}, {"angle": 61, "sky": 19.0, "set": "b"},
      {"angle": 43, "sky": 19.1, "set": "b"}, {"angle": 45, "sky": 19.3, "set": "b"}, {"angle": 47, "sky": 19.2, "set": "b"},
      {"angle": 49, "sky": 19.1, "set": "b"}, {"angle": 51, "sky": 19.3, "set": "b"}, {"angle": 55, "sky": 19.1, "set": "b"},
      {"angle": 59, "sky": 19.15, "set": "b"}, {"angle": 63, "sky": 19.2, "set": "b"}, {"angle": 65, "sky": 19.3, "set": "b"},
      {"angle": 64, "sky": 19.05, "set": "b"},
      {"angle": 58, "sky": 19.5, "set": "b"},
      {"angle": 60, "sky": 19.6, "set": "b"}, {"angle": 62, "sky": 19.45, "set": "b"}, {"angle": 64, "sky": 19.7, "set": "b"},
      {"angle": 66, "sky": 19.55, "set": "b"}, {"angle": 68, "sky": 19.8, "set": "b"}, {"angle": 70, "sky": 19.6, "set": "b"},
      {"angle": 72, "sky": 19.9, "set": "b"}, {"angle": 74, "sky": 19.7, "set": "b"}, {"angle": 76, "sky": 19.5, "set": "b"},
      {"angle": 78, "sky": 19.85, "set": "b"}, {"angle": 80, "sky": 19.65, "set": "b"}, {"angle": 63, "sky": 19.85, "set": "b"},
      {"angle": 67, "sky": 19.4, "set": "b"}, {"angle": 71, "sky": 19.3, "set": "b"}, {"angle": 75, "sky": 19.35, "set": "b"},
      {"angle": 57, "sky": 19.4, "set": "b"}, {"angle": 59, "sky": 19.7, "set": "b"}, {"angle": 61, "sky": 19.5, "set": "b"},
      {"angle": 65, "sky": 19.6, "set": "b"}, {"angle": 67, "sky": 19.75, "set": "b"}, {"angle": 69, "sky": 19.5, "set": "b"},
      {"angle": 71, "sky": 19.8, "set": "b"}, {"angle": 73, "sky": 19.6, "set": "b"}, {"angle": 75, "sky": 19.95, "set": "b"},
      {"angle": 77, "sky": 19.7, "set": "b"}, {"angle": 79, "sky": 19.6, "set": "b"}, {"angle": 81, "sky": 19.8, "set": "b"},
      {"angle": 83, "sky": 19.7, "set": "b"}, {"angle": 85, "sky": 20.0, "set": "b"}, {"angle": 87, "sky": 19.75, "set": "b"},
      {"angle": 89, "sky": 20.05, "set": "b"}, {"angle": 91, "sky": 19.85, "set": "b"}, {"angle": 93, "sky": 20.1, "set": "b"},
      {"angle": 95, "sky": 19.95, "set": "b"}, {"angle": 97, "sky": 19.8, "set": "b"}, {"angle": 99, "sky": 20.05, "set": "b"},
      {"angle": 70, "sky": 20.0, "set": "b"}, {"angle": 76, "sky": 20.05, "set": "b"}, {"angle": 82, "sky": 20.2, "set": "b"},
      {"angle": 88, "sky": 20.2, "set": "b"}, {"angle": 94, "sky": 20.25, "set": "b"},
      {"angle": 80, "sky": 19.95, "set": "b"}, {"angle": 82, "sky": 20.05, "set": "b"}, {"angle": 84, "sky": 19.85, "set": "b"},
      {"angle": 86, "sky": 20.1, "set": "b"}, {"angle": 88, "sky": 19.9, "set": "b"}, {"angle": 90, "sky": 20.15, "set": "b"},
      {"angle": 92, "sky": 20.0, "set": "b"}, {"angle": 94, "sky": 19.8, "set": "b"}, {"angle": 96, "sky": 20.2, "set": "b"},
      {"angle": 98, "sky": 19.95, "set": "b"}, {"angle": 100, "sky": 20.1, "set": "b"}, {"angle": 85, "sky": 19.6, "set": "b"},
      {"angle": 89, "sky": 19.5, "set": "b"}, {"angle": 93, "sky": 19.7, "set": "b"}, {"angle": 97, "sky": 19.55, "set": "b"},
      {"angle": 102, "sky": 20.25, "set": "b"}, {"angle": 104, "sky": 20.0, "set": "b"}, {"angle": 106, "sky": 20.3, "set": "b"},
      {"angle": 108, "sky": 20.1, "set": "b"}, {"angle": 110, "sky": 19.95, "set": "b"}, {"angle": 112, "sky": 20.2, "set": "b"},
      {"angle": 114, "sky": 20.05, "set": "b"}, {"angle": 116, "sky": 20.35, "set": "b"}, {"angle": 118, "sky": 19.9, "set": "b"},
      {"angle": 120, "sky": 20.15, "set": "b"}, {"angle": 122, "sky": 20.0, "set": "b"}, {"angle": 124, "sky": 19.85, "set": "b"},
      {"angle": 126, "sky": 20.2, "set": "b"}, {"angle": 128, "sky": 19.95, "set": "b"}, {"angle": 130, "sky": 20.1, "set": "b"},
      {"angle": 132, "sky": 19.8, "set": "b"}, {"angle": 134, "sky": 20.05, "set": "b"}, {"angle": 136, "sky": 19.7, "set": "b"},
      {"angle": 138, "sky": 19.95, "set": "b"}, {"angle": 140, "sky": 19.8, "set": "b"}, {"angle": 142, "sky": 20.15, "set": "b"},
      {"angle": 144, "sky": 19.75, "set": "b"}, {"angle": 146, "sky": 20.0, "set": "b"}, {"angle": 148, "sky": 19.85, "set": "b"},
      {"angle": 150, "sky": 20.05, "set": "b"}, {"angle": 152, "sky": 20.2, "set": "b"}, {"angle": 154, "sky": 19.95, "set": "b"},
      {"angle": 156, "sky": 19.8, "set": "b"}, {"angle": 158, "sky": 20.1, "set": "b"}, {"angle": 160, "sky": 19.9, "set": "b"},
      {"angle": 162, "sky": 20.3, "set": "b"}, {"angle": 164, "sky": 20.0, "set": "b"}, {"angle": 166, "sky": 20.25, "set": "b"},
      {"angle": 168, "sky": 20.05, "set": "b"}, {"angle": 170, "sky": 20.3, "set": "b"}, {"angle": 172, "sky": 20.15, "set": "b"},
      {"angle": 101, "sky": 19.9, "set": "b"}, {"angle": 103, "sky": 20.15, "set": "b"}, {"angle": 105, "sky": 19.85, "set": "b"},
      {"angle": 107, "sky": 20.2, "set": "b"}, {"angle": 109, "sky": 19.95, "set": "b"}, {"angle": 111, "sky": 20.1, "set": "b"},
      {"angle": 113, "sky": 19.85, "set": "b"}, {"angle": 115, "sky": 20.2, "set": "b"}, {"angle": 117, "sky": 20.0, "set": "b"},
      {"angle": 119, "sky": 20.3, "set": "b"}, {"angle": 121, "sky": 19.9, "set": "b"}, {"angle": 123, "sky": 20.1, "set": "b"},
      {"angle": 125, "sky": 20.0, "set": "b"}, {"angle": 127, "sky": 19.8, "set": "b"}, {"angle": 129, "sky": 20.15, "set": "b"},
      {"angle": 131, "sky": 19.95, "set": "b"}, {"angle": 133, "sky": 20.2, "set": "b"}, {"angle": 135, "sky": 19.9, "set": "b"},
      {"angle": 137, "sky": 20.1, "set": "b"}, {"angle": 139, "sky": 19.85, "set": "b"}, {"angle": 141, "sky": 20.0, "set": "b"},
      {"angle": 143, "sky": 19.9, "set": "b"}, {"angle": 145, "sky": 20.15, "set": "b"}, {"angle": 147, "sky": 19.7, "set": "b"},
      {"angle": 149, "sky": 20.2, "set": "b"}, {"angle": 151, "sky": 19.85, "set": "b"}, {"angle": 153, "sky": 20.05, "set": "b"},
      {"angle": 155, "sky": 20.3, "set": "b"}, {"angle": 157, "sky": 19.95, "set": "b"}, {"angle": 159, "sky": 20.25, "set": "b"},
      {"angle": 161, "sky": 20.05, "set": "b"}, {"angle": 163, "sky": 19.9, "set": "b"}, {"angle": 165, "sky": 20.1, "set": "b"},
      {"angle": 167, "sky": 20.3, "set": "b"}, {"angle": 169, "sky": 19.9, "set": "b"}, {"angle": 171, "sky": 20.1, "set": "b"},
      {"angle": 173, "sky": 20.2, "set": "b"},
      {"angle": 108, "sky": 19.75, "set": "b"}, {"angle": 114, "sky": 19.6, "set": "b"}, {"angle": 120, "sky": 19.7, "set": "b"},
      {"angle": 127, "sky": 19.55, "set": "b"}, {"angle": 133, "sky": 19.5, "set": "b"}, {"angle": 140, "sky": 19.6, "set": "b"},
      {"angle": 19.4, "sky": 19.57, "set": "b"}, {"angle": 19.4, "sky": 19.41, "set": "b"}, {"angle": 19.4, "sky": 19.2, "set": "b"},
      {"angle": 19.9, "sky": 18.41, "set": "b"}, {"angle": 19.9, "sky": 18.57, "set": "b"}, {"angle": 27.7, "sky": 18.36, "set": "b"},
      {"angle": 29.4, "sky": 18.89, "set": "b"}, {"angle": 32.8, "sky": 19.05, "set": "b"}, {"angle": 33.3, "sky": 18.68, "set": "b"},
      {"angle": 35.5, "sky": 19.73, "set": "b"}, {"angle": 33.9, "sky": 19.89, "set": "b"}, {"angle": 25, "sky": 17.2, "set": "b"},
      {"angle": 25, "sky": 17.0, "set": "b"}, {"angle": 25, "sky": 16.36, "set": "b"}, {"angle": 27.7, "sky": 15.93, "set": "b"},
      {"angle": 28.3, "sky": 15.83, "set": "b"}, {"angle": 38.3, "sky": 18.05, "set": "b"}, {"angle": 38.3, "sky": 17.95, "set": "b"},
      {"angle": 38.3, "sky": 17.85, "set": "b"}, {"angle": 38.3, "sky": 17.75, "set": "b"}, {"angle": 38.3, "sky": 17.68, "set": "b"},
      {"angle": 38.8, "sky": 18.0, "set": "b"}, {"angle": 40.6, "sky": 18.47, "set": "b"}, {"angle": 37.8, "sky": 17.2, "set": "b"},
      {"angle": 30.5, "sky": 17.2, "set": "b"}, {"angle": 35.5, "sky": 19.2, "set": "b"}, {"angle": 55, "sky": 16.38, "set": "b"},
      {"angle": 134.2, "sky": 18.76, "set": "b"}, {"angle": 45, "sky": 18.0, "set": "b"}, {"angle": 50, "sky": 17.6, "set": "b"},
      {"angle": 55, "sky": 17.3, "set": "b"}, {"angle": 60, "sky": 17.0, "set": "b"}, {"angle": 48, "sky": 16.9, "set": "b"},
      {"angle": 58, "sky": 18.3, "set": "b"}, {"angle": 63, "sky": 17.5, "set": "b"}, {"angle": 66, "sky": 16.7, "set": "b"},

      {"angle": 128, "sky": 21.6, "set": "g"}, {"angle": 130, "sky": 21.7, "set": "g"}, {"angle": 132, "sky": 21.55, "set": "g"},
      {"angle": 134, "sky": 21.75, "set": "g"}, {"angle": 136, "sky": 21.6, "set": "g"}, {"angle": 137, "sky": 21.8, "set": "g"},
      {"angle": 139, "sky": 21.65, "set": "g"}, {"angle": 140, "sky": 21.5, "set": "g"}, {"angle": 141, "sky": 21.75, "set": "g"},
      {"angle": 143, "sky": 21.6, "set": "g"}, {"angle": 144, "sky": 21.85, "set": "g"}, {"angle": 145, "sky": 21.7, "set": "g"},
      {"angle": 146, "sky": 21.55, "set": "g"}, {"angle": 147, "sky": 21.8, "set": "g"}, {"angle": 148, "sky": 21.65, "set": "g"},
      {"angle": 149, "sky": 21.9, "set": "g"}, {"angle": 150, "sky": 21.7, "set": "g"}, {"angle": 151, "sky": 21.6, "set": "g"},
      {"angle": 152, "sky": 21.8, "set": "g"}, {"angle": 153, "sky": 21.95, "set": "g"}, {"angle": 153, "sky": 21.7, "set": "g"},
      {"angle": 154, "sky": 21.55, "set": "g"}, {"angle": 155, "sky": 21.85, "set": "g"}, {"angle": 156, "sky": 21.7, "set": "g"},
      {"angle": 157, "sky": 21.6, "set": "g"}, {"angle": 158, "sky": 21.8, "set": "g"}, {"angle": 159, "sky": 21.65, "set": "g"},
      {"angle": 160, "sky": 21.75, "set": "g"}, {"angle": 161, "sky": 21.55, "set": "g"}, {"angle": 162, "sky": 21.7, "set": "g"},
      {"angle": 163, "sky": 21.8, "set": "g"}, {"angle": 164, "sky": 21.6, "set": "g"}, {"angle": 165, "sky": 21.7, "set": "g"},
      {"angle": 166, "sky": 21.65, "set": "g"}, {"angle": 167, "sky": 21.75, "set": "g"}, {"angle": 168, "sky": 21.6, "set": "g"},
      {"angle": 169, "sky": 21.7, "set": "g"}, {"angle": 170, "sky": 21.55, "set": "g"}, {"angle": 171, "sky": 21.65, "set": "g"},
      {"angle": 172, "sky": 21.7, "set": "g"}, {"angle": 173, "sky": 21.5, "set": "g"}, {"angle": 174, "sky": 21.6, "set": "g"},
      {"angle": 175, "sky": 21.65, "set": "g"}, {"angle": 176, "sky": 21.5, "set": "g"}, {"angle": 177, "sky": 21.6, "set": "g"},
      {"angle": 178, "sky": 21.55, "set": "g"}, {"angle": 179, "sky": 21.6, "set": "g"}, {"angle": 180, "sky": 21.5, "set": "g"},
      {"angle": 176, "sky": 21.4, "set": "g"}, {"angle": 172, "sky": 21.45, "set": "g"},
      {"angle": 129, "sky": 21.75, "set": "g"}, {"angle": 131, "sky": 21.5, "set": "g"}, {"angle": 133, "sky": 21.65, "set": "g"},
      {"angle": 135, "sky": 21.8, "set": "g"}, {"angle": 136, "sky": 21.45, "set": "g"}, {"angle": 138, "sky": 21.7, "set": "g"},
      {"angle": 140, "sky": 21.85, "set": "g"}, {"angle": 142, "sky": 21.55, "set": "g"}, {"angle": 142, "sky": 21.7, "set": "g"},
      {"angle": 144, "sky": 21.65, "set": "g"}, {"angle": 145, "sky": 21.5, "set": "g"}, {"angle": 146, "sky": 21.9, "set": "g"},
      {"angle": 147, "sky": 21.6, "set": "g"}, {"angle": 148, "sky": 21.75, "set": "g"}, {"angle": 150, "sky": 21.55, "set": "g"},
      {"angle": 150, "sky": 21.85, "set": "g"}, {"angle": 151, "sky": 21.75, "set": "g"}, {"angle": 152, "sky": 21.65, "set": "g"},
      {"angle": 154, "sky": 21.75, "set": "g"}, {"angle": 154, "sky": 21.9, "set": "g"}, {"angle": 155, "sky": 21.6, "set": "g"},
      {"angle": 156, "sky": 21.85, "set": "g"}, {"angle": 157, "sky": 21.75, "set": "g"}, {"angle": 158, "sky": 21.55, "set": "g"},
      {"angle": 159, "sky": 21.9, "set": "g"}, {"angle": 160, "sky": 21.6, "set": "g"}, {"angle": 161, "sky": 21.8, "set": "g"},
      {"angle": 162, "sky": 21.6, "set": "g"}, {"angle": 163, "sky": 21.65, "set": "g"}, {"angle": 164, "sky": 21.8, "set": "g"},
      {"angle": 165, "sky": 21.55, "set": "g"}, {"angle": 166, "sky": 21.8, "set": "g"}, {"angle": 167, "sky": 21.6, "set": "g"},
      {"angle": 168, "sky": 21.7, "set": "g"}, {"angle": 169, "sky": 21.55, "set": "g"}, {"angle": 170, "sky": 21.75, "set": "g"},
      {"angle": 171, "sky": 21.5, "set": "g"}, {"angle": 173, "sky": 21.65, "set": "g"}, {"angle": 174, "sky": 21.5, "set": "g"},
      {"angle": 175, "sky": 21.55, "set": "g"}, {"angle": 177, "sky": 21.5, "set": "g"}, {"angle": 178, "sky": 21.65, "set": "g"},
      {"angle": 179, "sky": 21.5, "set": "g"},
      {"angle": 110, "sky": 21.55, "set": "g"},
      {"angle": 112, "sky": 21.6, "set": "g"}, {"angle": 114, "sky": 21.5, "set": "g"}, {"angle": 116, "sky": 21.65, "set": "g"},
      {"angle": 118, "sky": 21.5, "set": "g"}, {"angle": 120, "sky": 21.55, "set": "g"}, {"angle": 122, "sky": 21.6, "set": "g"},
      {"angle": 124, "sky": 21.45, "set": "g"}, {"angle": 126, "sky": 21.55, "set": "g"}, {"angle": 121, "sky": 21.7, "set": "g"},
      {"angle": 119, "sky": 21.4, "set": "g"}, {"angle": 123, "sky": 21.35, "set": "g"},
      {"angle": 102, "sky": 21.65, "set": "g"}, {"angle": 104, "sky": 21.45, "set": "g"}, {"angle": 106, "sky": 21.6, "set": "g"},
      {"angle": 108, "sky": 21.45, "set": "g"}, {"angle": 109, "sky": 21.7, "set": "g"}, {"angle": 111, "sky": 21.45, "set": "g"},
      {"angle": 113, "sky": 21.7, "set": "g"}, {"angle": 115, "sky": 21.55, "set": "g"}, {"angle": 117, "sky": 21.45, "set": "g"},
      {"angle": 125, "sky": 21.65, "set": "g"}, {"angle": 127, "sky": 21.5, "set": "g"}, {"angle": 111, "sky": 21.85, "set": "g"},
      {"angle": 117, "sky": 21.75, "set": "g"}, {"angle": 84, "sky": 21.55, "set": "g"}, {"angle": 86, "sky": 21.75, "set": "g"},
      {"angle": 88, "sky": 21.55, "set": "g"}, {"angle": 90, "sky": 21.75, "set": "g"}, {"angle": 92, "sky": 21.65, "set": "g"},
      {"angle": 94, "sky": 21.5, "set": "g"}, {"angle": 96, "sky": 21.55, "set": "g"},
      {"angle": 81, "sky": 21.65, "set": "g"},
      {"angle": 83, "sky": 21.7, "set": "g"}, {"angle": 85, "sky": 21.6, "set": "g"}, {"angle": 87, "sky": 21.65, "set": "g"},
      {"angle": 89, "sky": 21.7, "set": "g"}, {"angle": 91, "sky": 21.6, "set": "g"}, {"angle": 93, "sky": 21.55, "set": "g"},
      {"angle": 95, "sky": 21.65, "set": "g"}, {"angle": 97, "sky": 21.6, "set": "g"}, {"angle": 99, "sky": 21.5, "set": "g"},
      {"angle": 101, "sky": 21.55, "set": "g"}, {"angle": 103, "sky": 21.6, "set": "g"}, {"angle": 105, "sky": 21.5, "set": "g"},
      {"angle": 107, "sky": 21.55, "set": "g"}, {"angle": 100, "sky": 21.4, "set": "g"}, {"angle": 98, "sky": 21.3, "set": "g"},
      {"angle": 81, "sky": 22.03, "set": "g"}, {"angle": 85.1, "sky": 22.26, "set": "g"}, {"angle": 85.1, "sky": 22.1, "set": "g"},
      {"angle": 88.5, "sky": 21.89, "set": "g"}, {"angle": 94.6, "sky": 21.89, "set": "g"}, {"angle": 98.5, "sky": 22.05, "set": "g"},
      {"angle": 98.5, "sky": 21.78, "set": "g"}, {"angle": 108.6, "sky": 22.21, "set": "g"}, {"angle": 108.6, "sky": 22.0, "set": "g"},
      {"angle": 115.8, "sky": 22.05, "set": "g"}, {"angle": 119.7, "sky": 21.89, "set": "g"}, {"angle": 123.1, "sky": 22.05, "set": "g"},
      {"angle": 126.4, "sky": 22.15, "set": "g"}, {"angle": 126.4, "sky": 21.94, "set": "g"}, {"angle": 133.6, "sky": 22.15, "set": "g"},
      {"angle": 133.6, "sky": 21.89, "set": "g"}, {"angle": 140.3, "sky": 22.0, "set": "g"}, {"angle": 73.5, "sky": 20.95, "set": "g"},
      {"angle": 75, "sky": 20.94, "set": "g"}, {"angle": 76.5, "sky": 20.95, "set": "g"}, {"angle": 78, "sky": 20.93, "set": "g"},
      {"angle": 79.5, "sky": 20.94, "set": "g"}, {"angle": 67.9, "sky": 21.15, "set": "g"}, {"angle": 67.9, "sky": 21.05, "set": "g"},
      {"angle": 62, "sky": 20.7, "set": "g"}, {"angle": 63.5, "sky": 20.72, "set": "g"}, {"angle": 65, "sky": 20.7, "set": "g"},
      {"angle": 66.5, "sky": 20.71, "set": "g"}, {"angle": 49.5, "sky": 20.18, "set": "g"}, {"angle": 51, "sky": 20.17, "set": "g"},
      {"angle": 52.5, "sky": 20.18, "set": "g"}, {"angle": 54, "sky": 20.19, "set": "g"}, {"angle": 41.1, "sky": 19.0, "set": "g"},
      {"angle": 41.1, "sky": 18.8, "set": "g"}, {"angle": 158.2, "sky": 21.05, "set": "g"}, {"angle": 158.8, "sky": 21.0, "set": "g"},
      {"angle": 105, "sky": 21.3, "set": "g"}
    ]
  },
  "resolve": {"axis": {"x": "independent", "y": "independent"}},
  "layer": [
    {
      "mark": {"type": "point", "shape": "M-1,0H1M0,-1V1", "filled": false, "size": 49, "strokeWidth": 1, "opacity": 0.75},
      "encoding": {
        "x": {
          "field": "angle", "type": "quantitative",
          "scale": {"domain": [0, 200], "nice": false, "zero": false},
          "axis": {"orient": "bottom", "values": [0, 50, 100, 150, 200], "tickSize": -9, "labelPadding": 14, "titlePadding": 6, "title": "moon angle", "labelFlush": false}
        },
        "y": {
          "field": "sky", "type": "quantitative",
          "scale": {"domain": [12, 26], "nice": false, "zero": false},
          "axis": {"orient": "left", "values": [12, 14, 16, 18, 20, 22, 24, 26], "tickSize": -12, "labelPadding": 17, "titlePadding": 7, "title": "sky (mags asec -2)", "labelFlush": false}
        },
        "color": {
          "field": "set", "type": "nominal", "legend": null,
          "scale": {"domain": ["c", "m", "r", "b", "g"], "range": ["#00ffff", "#ff00ff", "#ff0000", "#0000ff", "#00ff00"]}
        }
      }
    },
    {
      "transform": [{"filter": "datum.angle < -1000"}],
      "mark": {"type": "point", "opacity": 0},
      "encoding": {
        "x": {"field": "angle", "type": "quantitative",
          "axis": {"orient": "bottom", "values": [10, 20, 30, 40, 60, 70, 80, 90, 110, 120, 130, 140, 160, 170, 180, 190], "tickSize": -4.5, "labels": false, "domain": false, "title": null}},
        "y": {"field": "sky", "type": "quantitative",
          "axis": {"orient": "left", "values": [12.5, 13, 13.5, 14.5, 15, 15.5, 16.5, 17, 17.5, 18.5, 19, 19.5, 20.5, 21, 21.5, 22.5, 23, 23.5, 24.5, 25, 25.5], "tickSize": -6, "labels": false, "domain": false, "title": null}}
      }
    },
    {
      "transform": [{"filter": "datum.angle < -1000"}],
      "mark": {"type": "point", "opacity": 0},
      "encoding": {
        "x": {"field": "angle", "type": "quantitative",
          "axis": {"orient": "top", "values": [0, 50, 100, 150, 200], "tickSize": -9, "labels": false, "title": null}},
        "y": {"field": "sky", "type": "quantitative",
          "axis": {"orient": "right", "values": [12, 14, 16, 18, 20, 22, 24, 26], "tickSize": -12, "labels": false, "title": null}}
      }
    },
    {
      "transform": [{"filter": "datum.angle < -1000"}],
      "mark": {"type": "point", "opacity": 0},
      "encoding": {
        "x": {"field": "angle", "type": "quantitative",
          "axis": {"orient": "top", "values": [10, 20, 30, 40, 60, 70, 80, 90, 110, 120, 130, 140, 160, 170, 180, 190], "tickSize": -4.5, "labels": false, "domain": false, "title": null}},
        "y": {"field": "sky", "type": "quantitative",
          "axis": {"orient": "right", "values": [12.5, 13, 13.5, 14.5, 15, 15.5, 16.5, 17, 17.5, 18.5, 19, 19.5, 20.5, 21, 21.5, 22.5, 23, 23.5, 24.5, 25, 25.5], "tickSize": -6, "labels": false, "domain": false, "title": null}}
      }
    }
  ]
}
